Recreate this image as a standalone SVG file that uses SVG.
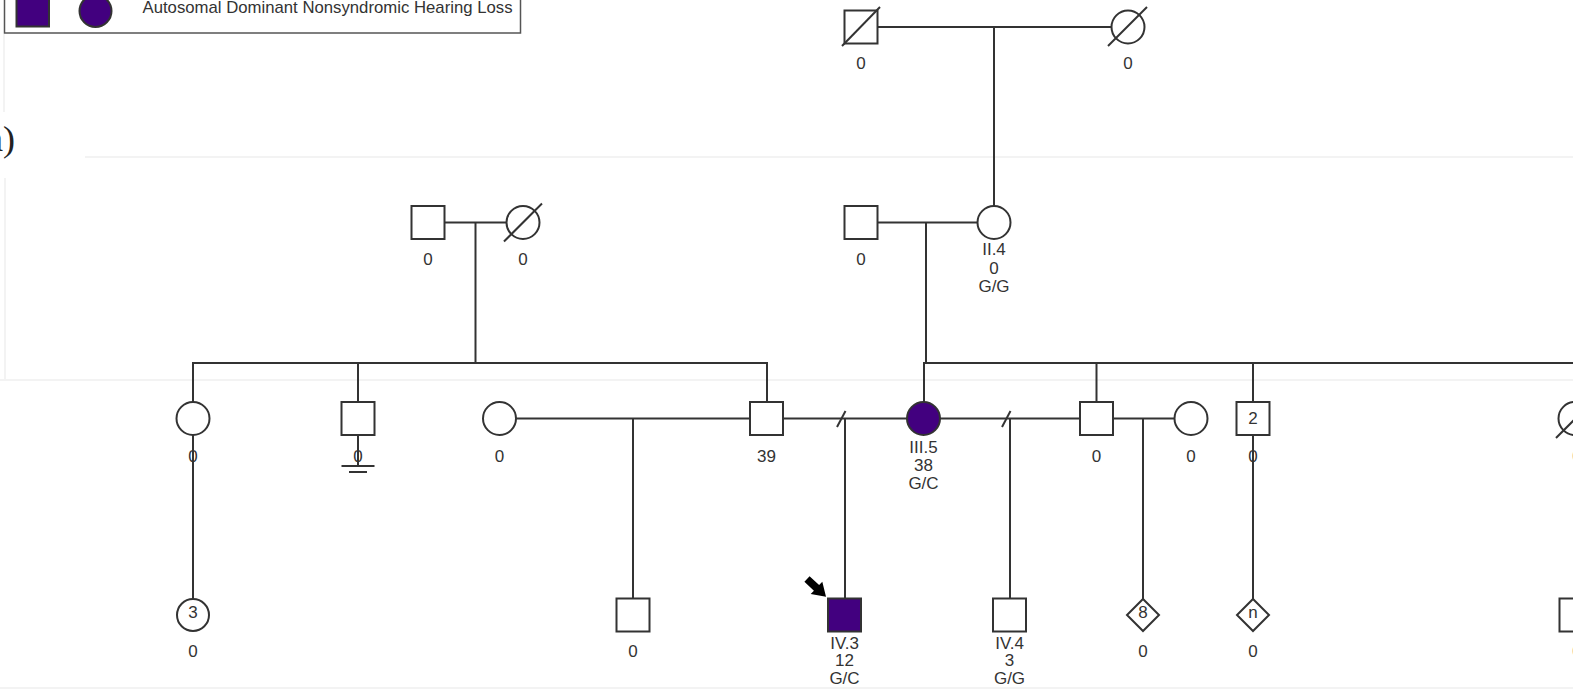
<svg xmlns="http://www.w3.org/2000/svg" width="1573" height="690" viewBox="0 0 1573 690">
<style>
.ln{stroke:#333;stroke-width:2;fill:none}
.nd{stroke:#333;stroke-width:2;fill:#fff}
.aff{fill:#42007f}
.t{font-family:"Liberation Sans",Arial,sans-serif;font-size:17px;fill:#333;text-anchor:middle}
.faint{stroke:#f3f3f3;stroke-width:2;fill:none}
</style>
<rect width="1573" height="690" fill="#fff"/>
<g id="background">
<line class="faint" x1="85" y1="157" x2="1573" y2="157"/>
<line class="faint" x1="0" y1="380" x2="1573" y2="380"/>
<line class="faint" x1="0" y1="688" x2="1573" y2="688"/>
<line class="faint" x1="4" y1="34" x2="4" y2="112"/>
<line class="faint" x1="5" y1="178" x2="5" y2="380"/>
</g>
<text x="-13" y="151" font-family="Liberation Serif,serif" font-size="36" fill="#222">a)</text>
<g id="legend">
<rect x="4.5" y="-20" width="516" height="53" fill="#fff" stroke="#555" stroke-width="1.5"/>
<rect class="nd aff" x="16.5" y="-6" width="32.5" height="32.5"/>
<circle class="nd aff" cx="95.5" cy="11" r="16"/>
<text x="142.5" y="12.5" font-family="Liberation Sans,Arial,sans-serif" font-size="17" fill="#333" textLength="370" lengthAdjust="spacingAndGlyphs">Autosomal Dominant Nonsyndromic Hearing Loss</text>
</g>
<g id="connectors">
<line class="ln" x1="877.5" y1="27" x2="1111.5" y2="27"/>
<line class="ln" x1="994" y1="27" x2="994" y2="206"/>
<line class="ln" x1="444.5" y1="222.5" x2="506.5" y2="222.5"/>
<line class="ln" x1="475.5" y1="222.5" x2="475.5" y2="363"/>
<line class="ln" x1="192" y1="363" x2="768" y2="363"/>
<line class="ln" x1="193" y1="363" x2="193" y2="402"/>
<line class="ln" x1="358" y1="363" x2="358" y2="402"/>
<line class="ln" x1="767" y1="363" x2="767" y2="402"/>
<line class="ln" x1="877.5" y1="222.5" x2="977.5" y2="222.5"/>
<line class="ln" x1="926" y1="222.5" x2="926" y2="363"/>
<line class="ln" x1="923" y1="363" x2="1573" y2="363"/>
<line class="ln" x1="924" y1="363" x2="924" y2="402"/>
<line class="ln" x1="1096.5" y1="363" x2="1096.5" y2="402"/>
<line class="ln" x1="1253" y1="363" x2="1253" y2="402"/>
<line class="ln" x1="193" y1="435" x2="193" y2="599"/>
<line class="ln" x1="358" y1="435" x2="358" y2="466"/>
<line class="ln" x1="341.5" y1="466" x2="374.5" y2="466"/>
<line class="ln" x1="349" y1="472" x2="367" y2="472"/>
<line class="ln" x1="516" y1="418.5" x2="750" y2="418.5"/>
<line class="ln" x1="633" y1="418.5" x2="633" y2="599"/>
<line class="ln" x1="783" y1="418.5" x2="907" y2="418.5"/>
<line class="ln" x1="837" y1="427" x2="845.5" y2="411"/>
<line class="ln" x1="845" y1="418.5" x2="845" y2="599"/>
<line class="ln" x1="940" y1="418.5" x2="1080" y2="418.5"/>
<line class="ln" x1="1002" y1="427" x2="1010.5" y2="411"/>
<line class="ln" x1="1010" y1="418.5" x2="1010" y2="599"/>
<line class="ln" x1="1113" y1="418.5" x2="1175" y2="418.5"/>
<line class="ln" x1="1143" y1="418.5" x2="1143" y2="599"/>
<line class="ln" x1="1253" y1="435" x2="1253" y2="599"/>
</g>
<g id="I-1">
<rect class="nd" x="844.5" y="10.5" width="33" height="33"/>
<line class="ln" x1="842" y1="46" x2="880" y2="7"/>
<text class="t" x="861" y="69">0</text>
</g>
<g id="I-2">
<circle class="nd" cx="1128" cy="27" r="16.5"/>
<line class="ln" x1="1108" y1="46" x2="1147" y2="7"/>
<text class="t" x="1128" y="69">0</text>
</g>
<g id="II-1">
<rect class="nd" x="411.5" y="206" width="33" height="33"/>
<text class="t" x="428" y="265">0</text>
</g>
<g id="II-2">
<circle class="nd" cx="523" cy="222.5" r="16.5"/>
<line class="ln" x1="504" y1="241.5" x2="542" y2="203.5"/>
<text class="t" x="523" y="265">0</text>
</g>
<g id="II-3">
<rect class="nd" x="844.5" y="206" width="33" height="33"/>
<text class="t" x="861" y="265">0</text>
</g>
<g id="II-4">
<circle class="nd" cx="994" cy="222.5" r="16.5"/>
<text class="t" x="994" y="255">II.4</text>
<text class="t" x="994" y="274">0</text>
<text class="t" x="994" y="292">G/G</text>
</g>
<g id="III-1">
<circle class="nd" cx="193" cy="418.5" r="16.5"/>
<text class="t" x="193" y="462">0</text>
</g>
<g id="III-2">
<rect class="nd" x="341.5" y="402" width="33" height="33"/>
<text class="t" x="358" y="462">0</text>
</g>
<g id="III-3">
<circle class="nd" cx="499.5" cy="418.5" r="16.5"/>
<text class="t" x="499.5" y="462">0</text>
</g>
<g id="III-4">
<rect class="nd" x="750" y="402" width="33" height="33"/>
<text class="t" x="766.5" y="462">39</text>
</g>
<g id="III-5">
<circle class="nd aff" cx="923.5" cy="418.5" r="16.5"/>
<text class="t" x="923.5" y="453">III.5</text>
<text class="t" x="923.5" y="471">38</text>
<text class="t" x="923.5" y="489">G/C</text>
</g>
<g id="III-6">
<rect class="nd" x="1080" y="402" width="33" height="33"/>
<text class="t" x="1096.5" y="462">0</text>
</g>
<g id="III-7">
<circle class="nd" cx="1191" cy="418.5" r="16.5"/>
<text class="t" x="1191" y="462">0</text>
</g>
<g id="III-8">
<rect class="nd" x="1236.5" y="402" width="33" height="33"/>
<text class="t" x="1253" y="424">2</text>
<text class="t" x="1253" y="462">0</text>
</g>
<g id="III-9">
<circle class="nd" cx="1575" cy="418.5" r="16.5"/>
<line class="ln" x1="1556" y1="438" x2="1595" y2="399"/>
<text class="t" x="1577" y="462">0</text>
</g>
<g id="IV-1">
<circle class="nd" cx="193" cy="615" r="16"/>
<text class="t" x="193" y="617.5">3</text>
<text class="t" x="193" y="657">0</text>
</g>
<g id="IV-2">
<rect class="nd" x="616.5" y="598.5" width="33" height="33"/>
<text class="t" x="633" y="657">0</text>
</g>
<g id="IV-3">
<rect class="nd aff" x="828" y="598.5" width="33" height="33"/>
<polygon points="0,-3.8 13,-3.8 13,-8.5 26,0 13,8.5 13,3.8 0,3.8" fill="#000" transform="translate(807,579) rotate(43)"/>
<text class="t" x="844.5" y="649">IV.3</text>
<text class="t" x="844.5" y="666">12</text>
<text class="t" x="844.5" y="684">G/C</text>
</g>
<g id="IV-4">
<rect class="nd" x="993" y="598.5" width="33" height="33"/>
<text class="t" x="1009.5" y="649">IV.4</text>
<text class="t" x="1009.5" y="666">3</text>
<text class="t" x="1009.5" y="684">G/G</text>
</g>
<g id="IV-5">
<polygon class="nd" points="1143,599 1159,615 1143,631 1127,615"/>
<text class="t" x="1143" y="617.5">8</text>
<text class="t" x="1143" y="657">0</text>
</g>
<g id="IV-6">
<polygon class="nd" points="1253,599 1269,615 1253,631 1237,615"/>
<text class="t" x="1253" y="617.5">n</text>
<text class="t" x="1253" y="657">0</text>
</g>
<g id="IV-7">
<rect class="nd" x="1559.5" y="598.5" width="33" height="33"/>
<text class="t" x="1577" y="657">0</text>
</g>
</svg>
